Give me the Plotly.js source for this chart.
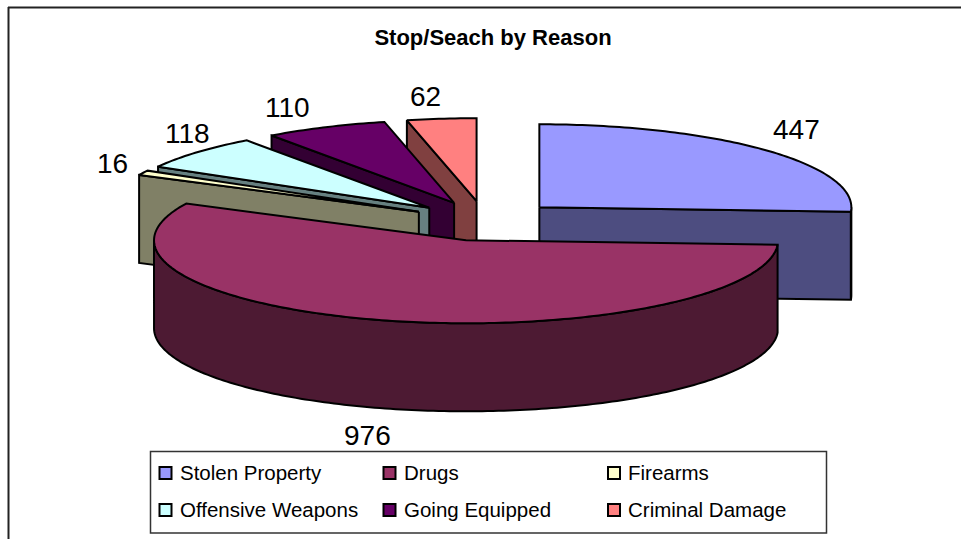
<!DOCTYPE html>
<html><head><meta charset="utf-8">
<script src="https://cdn.plot.ly/plotly-3.0.1.min.js"></script>
<style>html,body{margin:0;padding:0;background:#fff}#c{width:961px;height:539px}</style>
</head><body><div id="c"></div>
<script>
var categories = ["Stolen Property","Drugs","Firearms","Offensive Weapons","Going Equipped","Criminal Damage"];
var values = [447,976,16,118,110,62];
var topColors = ["#9999FF","#993366","#FFFFCC","#CCFFFF","#660066","#FF8080"];
var sideColors = ["#4D4D80","#4D1A33","#808066","#668080","#330033","#804040"];
var paintOrder = [5,4,3,2,0,1];
var labelX = [796,367,112,187,287,425];
var labelY = [129,435,163,133,107,96];

var CX=485, CY=221, RX=312, RY=83, DEPTH=88, PULL=0.24;
var total = values.reduce(function(a,b){return a+b;},0);
var rad = Math.PI/180;
var traces = [];
function pt(c,a,dz){return [c[0]+RX*Math.sin(a*rad), c[1]-RY*Math.cos(a*rad)+(dz||0)];}
function arc(c,a0,a1,dz){var n=Math.max(2,Math.ceil(Math.abs(a1-a0)));var r=[];for(var i=0;i<=n;i++){r.push(pt(c,a0+(a1-a0)*i/n,dz));}return r;}
function poly(p,color){
  p=p.concat([p[0]]);
  traces.push({type:"scatter",mode:"lines",x:p.map(function(q){return q[0];}),y:p.map(function(q){return q[1];}),
    fill:"toself",fillcolor:color,line:{color:"#000",width:2,simplify:false},hoverinfo:"skip",showlegend:false});
}
var cum=0, slices=values.map(function(v){var s=cum/total*360;cum+=v;var e=cum/total*360;var m=(s+e)/2;
  return {s:s,e:e,c:[CX+PULL*RX*Math.sin(m*rad),CY-PULL*RY*Math.cos(m*rad)]};});
paintOrder.forEach(function(i){
  var w=slices[i],c=w.c;
  function face(a){var p=pt(c,a);poly([[c[0],c[1]],p,[p[0],p[1]+DEPTH],[c[0],c[1]+DEPTH]],sideColors[i]);}
  if(Math.sin(w.s*rad)<0) face(w.s);
  if(Math.sin(w.e*rad)>0) face(w.e);
  var a0=Math.max(w.s,90),a1=Math.min(w.e,270);
  if(a1>a0){poly(arc(c,a0,a1,0).concat(arc(c,a1,a0,DEPTH)),sideColors[i]);}
  poly([[c[0],c[1]]].concat(arc(c,w.s,w.e,0)),topColors[i]);
});

var legendColX=[165.5,389.5,614];
var legendRowY=[473,510];
var legendTextX=[179,403,627];
var swX=[],swY=[],swC=[],annotations=[];
categories.forEach(function(n,i){
  var col=i%3,row=Math.floor(i/3);
  swX.push(legendColX[col]);swY.push(legendRowY[row]);swC.push(topColors[i]);
  annotations.push({x:legendTextX[col],y:legendRowY[row]-1,xref:"x",yref:"y",xanchor:"left",yanchor:"middle",showarrow:false,
    text:n,align:"left",xshift:-1,font:{family:"Liberation Sans, Arial, sans-serif",size:20.5,color:"#000"}});
  annotations.push({x:labelX[i],y:labelY[i],xref:"x",yref:"y",xanchor:"center",yanchor:"middle",showarrow:false,
    text:String(values[i]),font:{family:"Liberation Sans, Arial, sans-serif",size:28,color:"#000"}});
});
traces.push({type:"scatter",mode:"markers",x:swX,y:swY,hoverinfo:"skip",showlegend:false,
  marker:{symbol:"square",size:12,color:swC,line:{color:"#000",width:2}}});

Plotly.newPlot("c",traces,{
  width:961,height:539,margin:{l:0,r:0,t:0,b:0},paper_bgcolor:"#fff",plot_bgcolor:"#fff",showlegend:false,
  title:{text:"<b>Stop/Seach by Reason</b>",x:493/961,xanchor:"center",y:1-37/539,yanchor:"middle",
    font:{family:"Liberation Sans, Arial, sans-serif",size:22,color:"#000"}},
  xaxis:{range:[0,961],visible:false,fixedrange:true},
  yaxis:{range:[539,0],visible:false,fixedrange:true},
  annotations:annotations,
  shapes:[
    {type:"line",x0:8.5,x1:8.5,y0:7,y1:539,xref:"x",yref:"y",line:{color:"#222",width:2}},
    {type:"line",x0:8,x1:961,y0:7.5,y1:7.5,xref:"x",yref:"y",line:{color:"#222",width:2}},
    {type:"rect",x0:150.5,x1:826.5,y0:451.5,y1:533,xref:"x",yref:"y",line:{color:"#333",width:1.5},fillcolor:"#fff",layer:"below"}
  ]
},{displayModeBar:false,staticPlot:true});
</script></body></html>
